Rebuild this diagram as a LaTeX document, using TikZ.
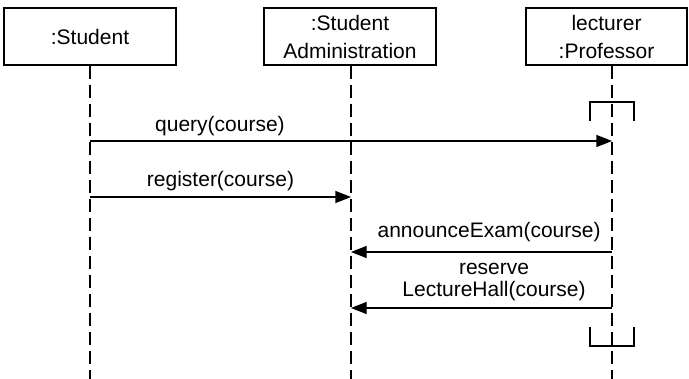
\documentclass[tikz,border=0pt]{standalone}
\usepackage{fontspec}
\setmainfont{Liberation Sans}
\usepackage{tikz}
\usetikzlibrary{calc,arrows.meta}
\tikzset{
  obj/.style={draw,line width=0.6pt,minimum width=86pt,minimum height=28.5pt,align=center,inner sep=0pt,font=\fontsize{10.5}{14}\selectfont},
  life/.style={line width=0.6pt,dash pattern=on 6.5pt off 3pt},
  ar/.style={-{Triangle[length=7.8pt,width=6pt]},line width=0.6pt},
  lbl/.style={inner sep=0pt,align=center,font=\fontsize{10.5}{11}\selectfont},
  creg/.style={line width=0.6pt}
}

\begin{document}
\begin{tikzpicture}[x=0.5pt,y=-0.5pt]
\useasboundingbox (0,0) rectangle (689,379);
\node[obj] (stu) at (90,36.5) {:Student};
\node[obj] (adm) at (350,36.5) {:Student\\Administration};
\node[obj,minimum width=80.5pt] (prof) at (606.5,36.5) {lecturer\\:Professor};
% lifelines
\coordinate (ls) at (stu.south);
\coordinate (la) at ($(adm.south)+(1,0)$);
\coordinate (lp) at ($(prof.south)+(5.5,0)$);
\draw[life] (ls) -- (ls |- 0,379);
\draw[life] (la) -- (la |- 0,379);
\draw[life] (lp) -- (lp |- 0,379);
% messages
\draw[ar] (ls |- 0,141) -- (lp |- 0,141) node[lbl,above=2.3pt,pos=0.249] {query(course)};
\draw[ar] (ls |- 0,197) -- (la |- 0,197) node[lbl,above=2.8pt,pos=0.5] {register(course)};
\draw[ar] (lp |- 0,252) -- (la |- 0,252) node[lbl,above=5pt,pos=0.471] {announceExam(course)};
\draw[ar] (lp |- 0,308) -- (la |- 0,308) node[lbl,above=3.3pt,pos=0.452] {reserve\\LectureHall(course)};
% coregion
\draw[creg] ($(lp |- 0,121)+(-22,0)$) -- ++(0,-19) -- ++(44,0) -- ++(0,19);
\draw[creg] ($(lp |- 0,327)+(-22,0)$) -- ++(0,19) -- ++(44,0) -- ++(0,-19);
\end{tikzpicture}
\end{document}
